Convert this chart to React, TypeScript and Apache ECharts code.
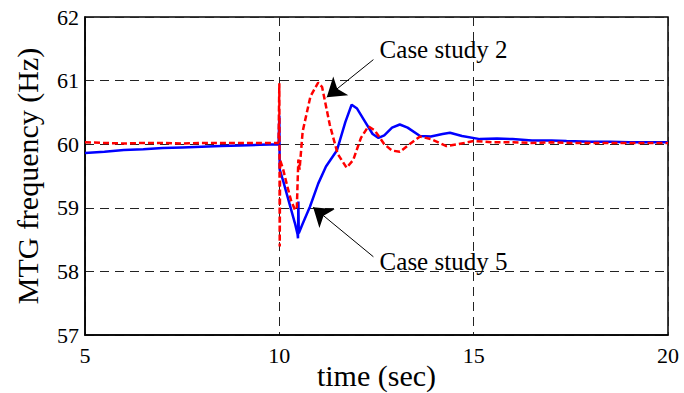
import React, { useEffect, useRef } from "react";
import * as echarts from "echarts";

// Time axis samples (s) and MTG frequency (Hz) for each case study
const case5Time = [
  5.0, 5.5, 6.0, 6.5, 7.0, 7.5, 8.0, 8.5, 9.0, 9.5, 9.98, 10.0, 10.01, 10.1, 10.2, 10.3,
  10.4, 10.47, 10.48, 10.49, 10.5, 10.6, 10.79, 11.0, 11.2, 11.48, 11.7, 11.86, 12.0,
  12.2, 12.4, 12.55, 12.7, 12.9, 13.1, 13.3, 13.62, 13.9, 14.2, 14.39, 14.7, 15.16,
  15.6, 16.0, 16.5, 17.0, 17.39, 18.0, 18.5, 19.0, 19.5, 20.0,
];
const case5Freq = [
  59.86, 59.88, 59.91, 59.92, 59.94, 59.95, 59.96, 59.97, 59.98, 59.99, 60.0, 60.45, 59.6,
  59.42, 59.2, 58.98, 58.76, 58.58, 58.52, 59.1, 58.6, 58.75, 59.02, 59.38, 59.65, 59.9,
  60.35, 60.62, 60.56, 60.36, 60.16, 60.1, 60.14, 60.26, 60.31, 60.26, 60.13, 60.12,
  60.16, 60.18, 60.13, 60.08, 60.09, 60.08, 60.06, 60.06, 60.05, 60.04, 60.04, 60.03,
  60.03, 60.03,
];

const case2Time = [
  5.0, 5.5, 6.0, 6.5, 7.0, 7.5, 8.0, 8.5, 9.0, 9.5, 9.98, 10.0, 10.01, 10.02, 10.1, 10.2,
  10.3, 10.4, 10.45, 10.47, 10.49, 10.52, 10.6, 10.8, 11.0, 11.1, 11.3, 11.5, 11.73,
  11.9, 12.1, 12.29, 12.45, 12.7, 12.9, 13.1, 13.35, 13.62, 13.9, 14.3, 14.6, 15.0, 15.5,
  16.0, 16.5, 17.0, 17.5, 18.0, 18.5, 19.0, 19.5, 20.0,
];
const case2Freq = [
  60.03, 60.02, 60.01, 60.02, 60.02, 60.01, 60.02, 60.02, 60.02, 60.02, 60.02, 60.96,
  58.39, 59.75, 59.6, 59.35, 59.12, 58.97, 58.98, 59.4, 59.76, 59.6, 60.2, 60.75, 60.97,
  60.9, 60.3, 59.85, 59.63, 59.75, 60.1, 60.28, 60.22, 60.0, 59.9, 59.88, 60.0, 60.12,
  60.08, 59.97, 60.0, 60.05, 60.03, 60.03, 60.02, 60.03, 60.02, 60.02, 60.02, 60.02,
  60.02, 60.02,
];

const xTicks = { min: 5, max: 20, step: 5 };
const yTicks = { min: 57, max: 62, step: 1 };

const zip = (t: number[], f: number[]) => t.map((v, i) => [v, f[i]]);

const FONT = "'Liberation Serif', 'Times New Roman', serif";

export default function App() {
  const ref = useRef<HTMLDivElement>(null);

  useEffect(() => {
    if (!ref.current) return;
    const chart = echarts.init(ref.current, undefined, { renderer: "svg" });

    const gridDash = { color: "#222", width: 1, type: [9, 6] as number[] };

    chart.setOption({
      animation: false,
      backgroundColor: "#fff",
      grid: {
        left: 85,
        right: 16,
        top: 17,
        bottom: 58,
        outerBoundsMode: "none",
        containLabel: false,
        show: true,
        borderColor: "#000",
        borderWidth: 1.5,
        backgroundColor: "transparent",
      },
      xAxis: {
        type: "value",
        min: xTicks.min,
        max: xTicks.max,
        interval: xTicks.step,
        name: "time (sec)",
        nameLocation: "middle",
        nameGap: 25,
        nameMoveOverlap: false,
        nameTextStyle: { fontFamily: FONT, fontSize: 30, color: "#000" },
        axisLine: { show: true, lineStyle: { color: "#000", width: 1.5 } },
        axisTick: { show: false },
        axisLabel: { fontFamily: FONT, fontSize: 22, color: "#000", margin: 9 },
        splitLine: { show: true, lineStyle: gridDash },
      },
      yAxis: {
        type: "value",
        min: yTicks.min,
        max: yTicks.max,
        interval: yTicks.step,
        name: "MTG frequency (Hz)",
        nameLocation: "middle",
        nameGap: 43,
        nameMoveOverlap: false,
        nameTextStyle: { fontFamily: FONT, fontSize: 30, color: "#000" },
        axisLine: { show: true, lineStyle: { color: "#000", width: 1.5 } },
        axisTick: { show: false },
        axisLabel: { fontFamily: FONT, fontSize: 22, color: "#000", margin: 6 },
        splitLine: { show: true, lineStyle: gridDash },
      },
      series: [
        {
          name: "Case study 5",
          type: "line",
          data: zip(case5Time, case5Freq),
          showSymbol: false,
          lineStyle: { color: "#0000ff", width: 2.5 },
          markLine: {
            silent: true,
            symbol: ["none", "arrow"],
            symbolSize: 18,
            lineStyle: { color: "#000", width: 1, type: "solid" },
            label: { show: false },
            data: [[{ coord: [12.42, 58.23] }, { coord: [10.87, 59.01] }]],
          },
          markPoint: {
            silent: true,
            symbol: "circle",
            symbolSize: 0,
            label: {
              show: true,
              position: "right",
              distance: 0,
              fontFamily: FONT,
              fontSize: 25,
              color: "#000",
              formatter: "Case study 5",
            },
            data: [{ coord: [12.58, 58.15] }],
          },
        },
        {
          name: "Case study 2",
          type: "line",
          data: zip(case2Time, case2Freq),
          showSymbol: false,
          lineStyle: { color: "#ff0000", width: 2.5, type: [6, 3] },
          markLine: {
            silent: true,
            symbol: ["none", "arrow"],
            symbolSize: 18,
            lineStyle: { color: "#000", width: 1, type: "solid" },
            label: { show: false },
            data: [[{ coord: [12.42, 61.33] }, { coord: [11.22, 60.74] }]],
          },
          markPoint: {
            silent: true,
            symbol: "circle",
            symbolSize: 0,
            label: {
              show: true,
              position: "right",
              distance: 0,
              fontFamily: FONT,
              fontSize: 25,
              color: "#000",
              formatter: "Case study 2",
            },
            data: [{ coord: [12.58, 61.49] }],
          },
        },
      ],
    });

    return () => chart.dispose();
  }, []);

  return (
    <div
      ref={ref}
      style={{ position: "fixed", left: 0, top: 0, width: 684, height: 393 }}
    />
  );
}
